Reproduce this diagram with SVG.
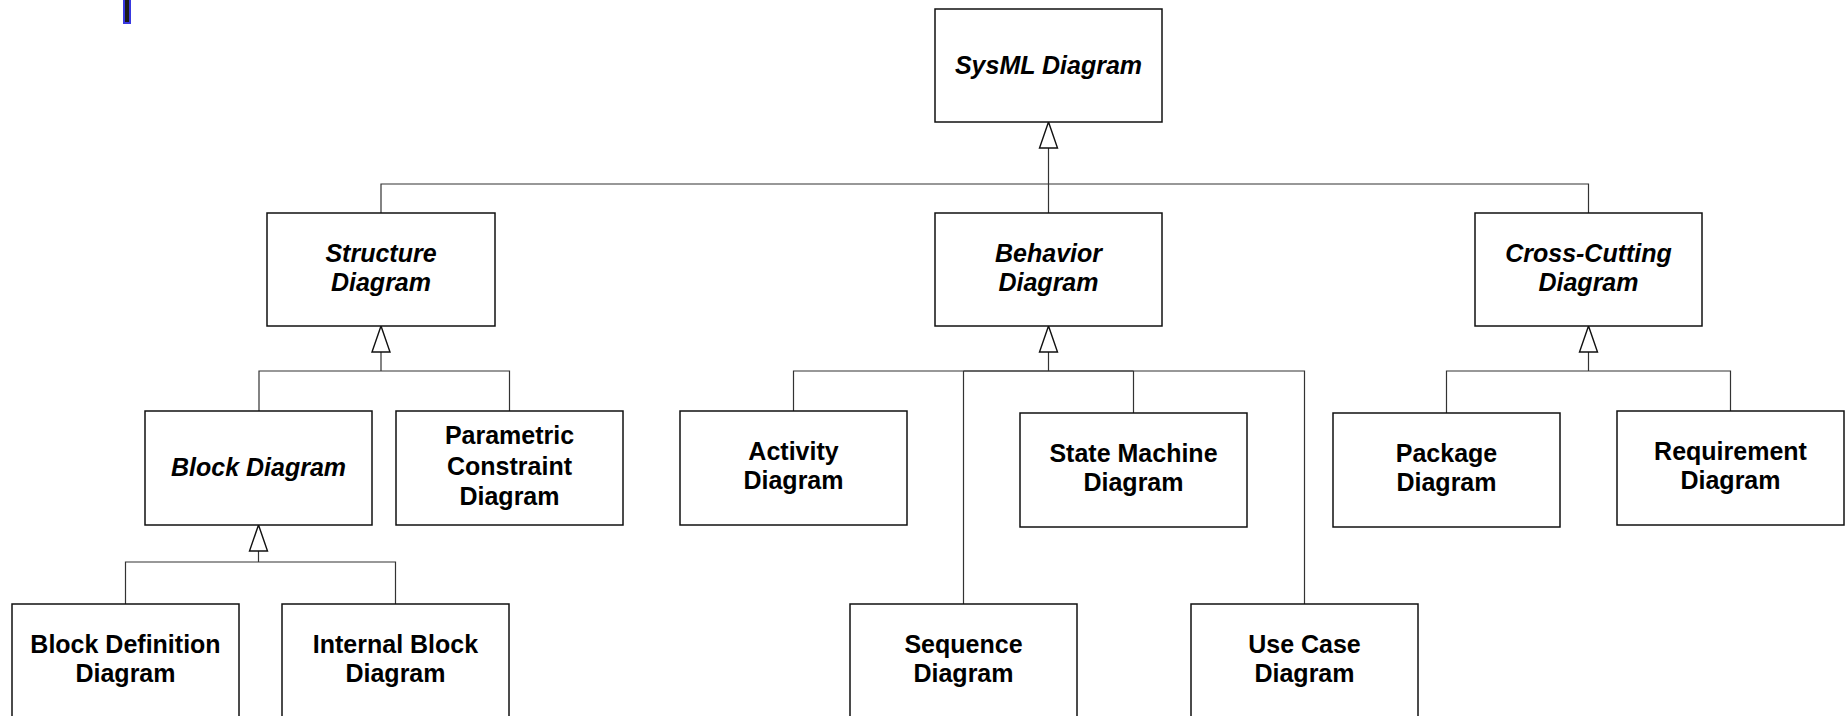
<svg xmlns="http://www.w3.org/2000/svg" width="1847" height="716" viewBox="0 0 1847 716">
<style>
.box{fill:#fff;stroke:#111;stroke-width:1.5}
.lbl{font-family:"Liberation Sans",Arial,sans-serif;font-weight:bold;font-size:25px;fill:#000;text-anchor:middle}
.it{font-style:italic}
.con{fill:none;stroke:#333;stroke-width:1.2}
.tri{fill:#fff;stroke:#111;stroke-width:1.4}
</style>
<rect width="1847" height="716" fill="#fff"/>
<rect x="124" y="-1" width="6" height="24" fill="#1a1a1a" stroke="#3838e0" stroke-width="2"/>
<g id="connectors">
<path class="con" d="M1048.5,148V213M381,213V184H1588.5V213"/>
<path class="con" d="M381,352V371M259,411V371H509.5V411"/>
<path class="con" d="M1048.5,352V371M793.5,411V371H1304.5V604M963.5,604V371M1133.5,413V371"/>
<path class="con" d="M963.5,371H1133.5" stroke-width="2"/>
<path class="con" d="M1588.5,352V371M1446.5,413V371H1730.5V411"/>
<path class="con" d="M258.5,551V562M125.5,604V562H395.5V604"/>
<polygon class="tri" points="1048.5,122 1039.5,148 1057.5,148"/>
<polygon class="tri" points="381,326 372,352 390,352"/>
<polygon class="tri" points="1048.5,326 1039.5,352 1057.5,352"/>
<polygon class="tri" points="1588.5,326 1579.5,352 1597.5,352"/>
<polygon class="tri" points="258.5,525 249.5,551 267.5,551"/>
</g>
<g id="sysml"><rect class="box" x="935" y="9" width="227" height="113"/><text class="lbl it" x="1048.5" y="74">SysML Diagram</text></g>
<g id="structure"><rect class="box" x="267" y="213" width="228" height="113"/><text class="lbl it" x="381" y="262">Structure</text><text class="lbl it" x="381" y="291">Diagram</text></g>
<g id="behavior"><rect class="box" x="935" y="213" width="227" height="113"/><text class="lbl it" x="1048.5" y="262">Behavior</text><text class="lbl it" x="1048.5" y="291">Diagram</text></g>
<g id="crosscutting"><rect class="box" x="1475" y="213" width="227" height="113"/><text class="lbl it" x="1588.5" y="262">Cross-Cutting</text><text class="lbl it" x="1588.5" y="291">Diagram</text></g>
<g id="block"><rect class="box" x="145" y="411" width="227" height="114"/><text class="lbl it" x="258.5" y="476">Block Diagram</text></g>
<g id="parametric"><rect class="box" x="396" y="411" width="227" height="114"/><text class="lbl" x="509.5" y="444">Parametric</text><text class="lbl" x="509.5" y="474.5">Constraint</text><text class="lbl" x="509.5" y="505">Diagram</text></g>
<g id="blockdef"><rect class="box" x="12" y="604" width="227" height="140"/><text class="lbl" x="125.5" y="653">Block Definition</text><text class="lbl" x="125.5" y="682">Diagram</text></g>
<g id="internal"><rect class="box" x="282" y="604" width="227" height="140"/><text class="lbl" x="395.5" y="653">Internal Block</text><text class="lbl" x="395.5" y="682">Diagram</text></g>
<g id="activity"><rect class="box" x="680" y="411" width="227" height="114"/><text class="lbl" x="793.5" y="460">Activity</text><text class="lbl" x="793.5" y="489">Diagram</text></g>
<g id="statemachine"><rect class="box" x="1020" y="413" width="227" height="114"/><text class="lbl" x="1133.5" y="462">State Machine</text><text class="lbl" x="1133.5" y="491">Diagram</text></g>
<g id="sequence"><rect class="box" x="850" y="604" width="227" height="140"/><text class="lbl" x="963.5" y="653">Sequence</text><text class="lbl" x="963.5" y="682">Diagram</text></g>
<g id="usecase"><rect class="box" x="1191" y="604" width="227" height="140"/><text class="lbl" x="1304.5" y="653">Use Case</text><text class="lbl" x="1304.5" y="682">Diagram</text></g>
<g id="package"><rect class="box" x="1333" y="413" width="227" height="114"/><text class="lbl" x="1446.5" y="462">Package</text><text class="lbl" x="1446.5" y="491">Diagram</text></g>
<g id="requirement"><rect class="box" x="1617" y="411" width="227" height="114"/><text class="lbl" x="1730.5" y="460">Requirement</text><text class="lbl" x="1730.5" y="489">Diagram</text></g>
</svg>
